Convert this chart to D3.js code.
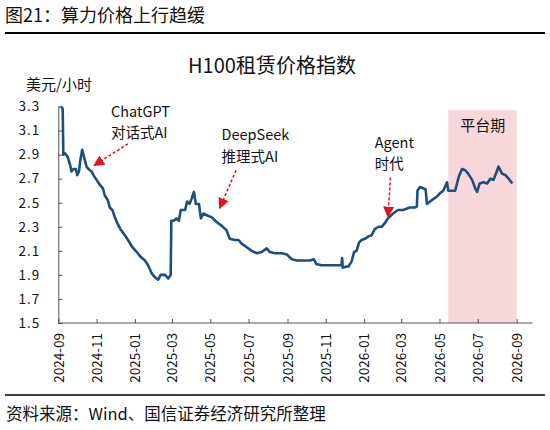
<!DOCTYPE html>
<html>
<head>
<meta charset="utf-8">
<script src="https://cdn.jsdelivr.net/npm/d3@7"></script>
<style>
  body { margin: 0; background: #fff; }
  text { font-family: "Noto Sans CJK SC", "Noto Sans", sans-serif; }
</style>
</head>
<body>
<script>
// chart data
const dates = [
  "2024-09-06","2024-09-08","2024-09-09","2024-09-12","2024-09-16","2024-09-20","2024-09-22","2024-09-25","2024-09-29",
  "2024-10-01","2024-10-04","2024-10-06","2024-10-09","2024-10-12","2024-10-16","2024-10-19","2024-10-24","2024-10-28",
  "2024-11-01","2024-11-06","2024-11-11","2024-11-14","2024-11-19","2024-11-22","2024-11-26","2024-11-30",
  "2024-12-04","2024-12-09","2024-12-16","2024-12-21","2024-12-28",
  "2025-01-04","2025-01-10","2025-01-17","2025-01-22","2025-01-28",
  "2025-02-02","2025-02-07","2025-02-11","2025-02-18","2025-02-23","2025-02-27","2025-02-28",
  "2025-03-04","2025-03-08","2025-03-12","2025-03-15","2025-03-22","2025-03-25","2025-03-29",
  "2025-04-01","2025-04-05","2025-04-08","2025-04-13","2025-04-16","2025-04-20","2025-04-28",
  "2025-05-03","2025-05-11","2025-05-19","2025-05-27",
  "2025-06-01","2025-06-09","2025-06-15","2025-06-20","2025-06-28",
  "2025-07-06","2025-07-14","2025-07-22","2025-07-30",
  "2025-08-04","2025-08-12","2025-08-23","2025-08-31",
  "2025-09-08","2025-09-16","2025-09-26",
  "2025-10-07","2025-10-13","2025-10-17","2025-10-25",
  "2025-11-02","2025-11-13","2025-11-21","2025-11-26","2025-11-27","2025-11-28",
  "2025-12-04","2025-12-07","2025-12-12","2025-12-16","2025-12-20","2025-12-24","2025-12-28",
  "2026-01-02","2026-01-08","2026-01-13","2026-01-18","2026-01-24","2026-01-29",
  "2026-02-03","2026-02-08","2026-02-16","2026-02-24",
  "2026-03-04","2026-03-15","2026-03-23","2026-03-26","2026-03-27","2026-03-31",
  "2026-04-05","2026-04-09","2026-04-11","2026-04-16","2026-04-21","2026-04-27",
  "2026-05-02","2026-05-07","2026-05-13","2026-05-15","2026-05-21","2026-05-26",
  "2026-06-01","2026-06-06","2026-06-11","2026-06-16","2026-06-22","2026-06-27","2026-06-30",
  "2026-07-04","2026-07-10","2026-07-16","2026-07-21","2026-07-26",
  "2026-08-01","2026-08-03","2026-08-09","2026-08-14","2026-08-19","2026-08-25"
];
const prices = [
  3.30,3.28,2.90,2.91,2.88,2.81,2.76,2.78,2.78,
  2.73,2.76,2.85,2.94,2.88,2.80,2.78,2.76,2.72,
  2.69,2.65,2.62,2.56,2.52,2.46,2.44,2.38,
  2.33,2.28,2.23,2.19,2.13,
  2.09,2.05,2.02,1.98,1.91,
  1.88,1.86,1.90,1.90,1.87,1.90,2.35,
  2.35,2.37,2.35,2.44,2.44,2.51,2.49,
  2.53,2.59,2.49,2.49,2.37,2.41,2.39,
  2.38,2.34,2.31,2.27,
  2.20,2.19,2.19,2.16,2.13,
  2.10,2.08,2.09,2.12,
  2.09,2.08,2.08,2.07,
  2.03,2.02,2.02,
  2.02,2.03,1.99,1.98,
  1.98,1.98,1.98,1.98,2.04,1.96,
  1.97,1.97,2.01,2.09,2.10,2.17,2.19,
  2.20,2.22,2.23,2.28,2.30,2.30,
  2.33,2.37,2.41,2.44,
  2.44,2.46,2.46,2.47,2.60,2.63,
  2.62,2.61,2.49,2.51,2.53,2.55,
  2.58,2.60,2.67,2.60,2.60,2.60,
  2.72,2.78,2.77,2.74,2.69,2.62,2.59,
  2.66,2.67,2.66,2.70,2.69,
  2.77,2.80,2.74,2.73,2.70,2.66
];

const xTickLabels = ["2024-09","2024-11","2025-01","2025-03","2025-05","2025-07","2025-09",
  "2025-11","2026-01","2026-03","2026-05","2026-07","2026-09"];
const yTickValues = [1.5, 1.7, 1.9, 2.1, 2.3, 2.5, 2.7, 2.9, 3.1, 3.3];

// shaded "plateau" period
const bandStart = "2026-05-15";
const bandEnd = "2026-09-01";
const bandTop = 3.27;

// annotations: text anchor, arrow start, arrow tip
const notes = [
  { lines: ["ChatGPT", "对话式AI"], textAt: ["2024-11-24", 3.215], from: ["2024-12-21", 2.99], to: ["2024-10-28", 2.81] },
  { lines: ["DeepSeek", "推理式AI"], textAt: ["2025-05-19", 3.02], from: ["2025-06-11", 2.77], to: ["2025-05-16", 2.455] },
  { lines: ["Agent", "时代"], textAt: ["2026-01-18", 2.955], from: ["2026-02-12", 2.71], to: ["2026-02-08", 2.385] }
];

const svgWidth = 550;
const svgHeight = 430;

const parseDay = d3.timeParse("%Y-%m-%d");
const parseMonth = d3.timeParse("%Y-%m");

const svg = d3.select("body")
  .append("svg")
  .attr("width", svgWidth)
  .attr("height", svgHeight);

// scales
const x = d3.scaleTime()
  .domain([parseMonth("2024-09"), parseMonth("2026-09")])
  .range([58.3, 516.7]);
const y = d3.scaleLinear()
  .domain([1.5, 3.3])
  .range([323, 106.5]);
const xAxisEnd = x(parseDay("2026-09-26"));

// header and footer
svg.append("text")
  .attr("x", 5).attr("y", 22)
  .attr("font-size", 18)
  .attr("fill", "#111")
  .text("图21：算力价格上行趋缓");
svg.append("line")
  .attr("x1", 5).attr("x2", 545).attr("y1", 33).attr("y2", 33)
  .attr("stroke", "#000").attr("stroke-width", 1.8);

svg.append("line")
  .attr("x1", 5).attr("x2", 545).attr("y1", 395).attr("y2", 395)
  .attr("stroke", "#000").attr("stroke-width", 1.5);
svg.append("text")
  .attr("x", 6).attr("y", 420)
  .attr("font-size", 16.5)
  .attr("fill", "#111")
  .text("资料来源：Wind、国信证券经济研究所整理");

// chart title and unit
svg.append("text")
  .attr("x", 272).attr("y", 73)
  .attr("text-anchor", "middle")
  .attr("font-size", 20)
  .attr("fill", "#111")
  .text("H100租赁价格指数");
svg.append("text")
  .attr("x", 26).attr("y", 90)
  .attr("font-size", 15)
  .attr("fill", "#111")
  .text("美元/小时");

// plateau band
svg.append("rect")
  .attr("x", x(parseDay(bandStart)))
  .attr("y", y(bandTop))
  .attr("width", x(parseDay(bandEnd)) - x(parseDay(bandStart)))
  .attr("height", y(1.5) - y(bandTop))
  .attr("fill", "#f8d7da");
svg.append("text")
  .attr("x", x(parseDay("2026-07-09")))
  .attr("y", y(3.1))
  .attr("text-anchor", "middle")
  .attr("font-size", 15)
  .attr("fill", "#111")
  .text("平台期");

// axes
const xAxis = d3.axisBottom(x)
  .tickValues(xTickLabels.map(parseMonth))
  .tickFormat(d3.timeFormat("%Y-%m"))
  .tickSize(-4);
const xg = svg.append("g")
  .attr("transform", `translate(0,${y(1.5)})`)
  .call(xAxis);
xg.select(".domain").remove();
xg.selectAll(".tick line").attr("stroke", "#555");
xg.selectAll("text")
  .attr("transform", "rotate(-90)")
  .attr("x", -10)
  .attr("y", 0)
  .attr("dy", "0.35em")
  .style("text-anchor", "end")
  .attr("font-size", 13.5)
  .attr("fill", "#111");
svg.append("line")
  .attr("x1", x.range()[0]).attr("x2", xAxisEnd)
  .attr("y1", y(1.5)).attr("y2", y(1.5))
  .attr("stroke", "#555");

const yAxis = d3.axisLeft(y)
  .tickValues(yTickValues)
  .tickFormat(d3.format(".1f"))
  .tickSize(-4)
  .tickPadding(18);
const yg = svg.append("g")
  .attr("transform", `translate(${x.range()[0]},0)`)
  .call(yAxis);
yg.select(".domain").attr("stroke", "#555");
yg.selectAll(".tick line").attr("stroke", "#555");
yg.selectAll("text")
  .attr("font-size", 13.5)
  .attr("fill", "#111")
  .attr("letter-spacing", 1);

// price line
const series = dates.map((d, i) => ({ date: parseDay(d), value: prices[i] }));
const line = d3.line()
  .x(d => x(d.date))
  .y(d => y(d.value));
svg.append("path")
  .datum(series)
  .attr("d", line)
  .attr("fill", "none")
  .attr("stroke", "#1c4f80")
  .attr("stroke-width", 2.6)
  .attr("stroke-linejoin", "round");

// annotation arrows
svg.append("defs").append("marker")
  .attr("id", "arrowhead")
  .attr("viewBox", "0 0 10 10")
  .attr("refX", 9).attr("refY", 5)
  .attr("markerWidth", 11).attr("markerHeight", 11)
  .attr("markerUnits", "userSpaceOnUse")
  .attr("orient", "auto")
  .append("path")
  .attr("d", "M0,0 L10,5 L0,10 Z")
  .attr("fill", "#e3141e");

notes.forEach(n => {
  const t = svg.append("text")
    .attr("font-size", 14.5)
    .attr("fill", "#111");
  n.lines.forEach((s, i) => {
    t.append("tspan")
      .attr("x", x(parseDay(n.textAt[0])))
      .attr("y", y(n.textAt[1]) + i * 21.5)
      .text(s);
  });
  svg.append("line")
    .attr("x1", x(parseDay(n.from[0]))).attr("y1", y(n.from[1]))
    .attr("x2", x(parseDay(n.to[0]))).attr("y2", y(n.to[1]))
    .attr("stroke", "#e3141e")
    .attr("stroke-width", 1.5)
    .attr("stroke-dasharray", "3,2")
    .attr("marker-end", "url(#arrowhead)");
});
</script>
</body>
</html>
